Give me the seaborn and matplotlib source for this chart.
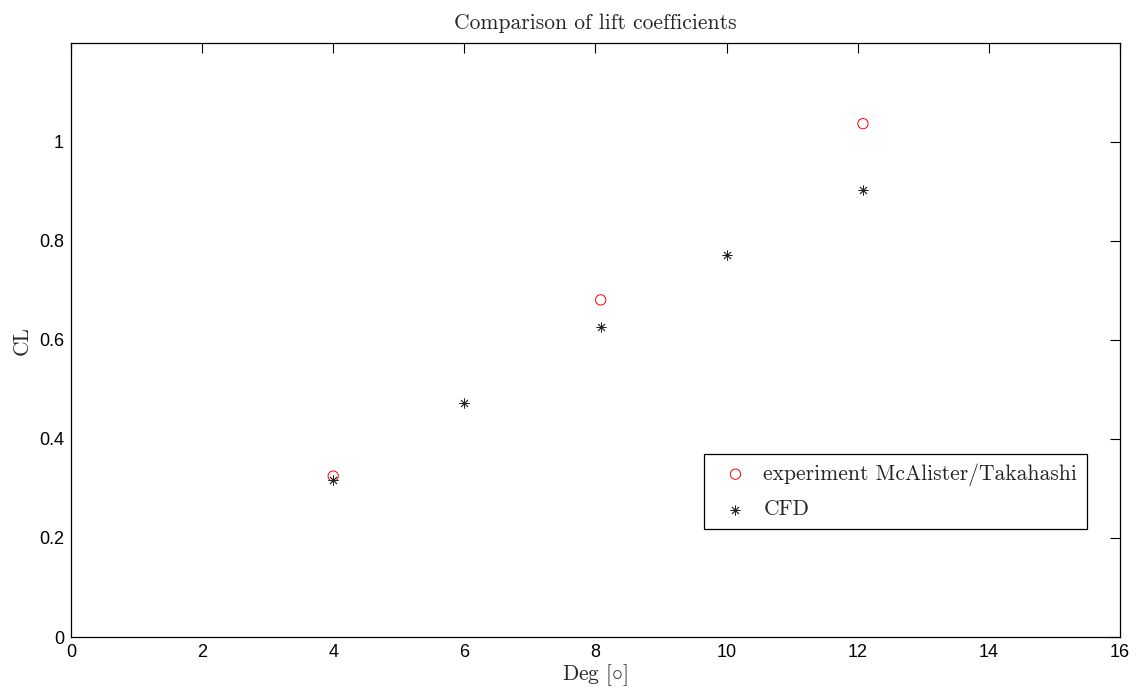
import matplotlib
matplotlib.use("Agg")
import matplotlib.pyplot as plt
import seaborn as sns
import pandas as pd

# Angle of attack [deg] and lift coefficient
exp_deg = [4.0, 8.08, 12.08]
exp_cl = [0.325, 0.681, 1.037]
cfd_deg = [4.0, 6.0, 8.08, 10.0, 12.08]
cfd_cl = [0.318, 0.473, 0.627, 0.772, 0.902]

x_ticks = [0, 2, 4, 6, 8, 10, 12, 14, 16]
y_ticks = [0, 0.2, 0.4, 0.6, 0.8, 1.0]

sns.set_style("white")
plt.rcParams["mathtext.fontset"] = "cm"
plt.rcParams["font.family"] = ["Liberation Sans Narrow", "Liberation Sans", "DejaVu Sans"]

exp_df = pd.DataFrame({"deg": exp_deg, "cl": exp_cl})
cfd_df = pd.DataFrame({"deg": cfd_deg, "cl": cfd_cl})

fig = plt.figure(figsize=(11.37, 6.93), dpi=100)
ax = fig.add_axes([0.0624, 0.0808, 0.9226, 0.8572])

sns.scatterplot(data=exp_df, x="deg", y="cl", ax=ax, marker="o", s=55,
                facecolor="none", edgecolor="#ff0000", linewidth=0.7,
                label="experiment McAlister/Takahashi")
sns.scatterplot(data=cfd_df, x="deg", y="cl", ax=ax, marker=(8, 2, 0), s=45,
                color="#222222", linewidth=0.6, label="CFD")

ax.set_xlim(0, 16)
ax.set_ylim(0, 1.2)
ax.set_xticks(x_ticks)
ax.set_xticklabels([f"{t:g}" for t in x_ticks])
ax.set_yticks(y_ticks)
ax.set_yticklabels([f"{t:g}" for t in y_ticks])
ax.tick_params(direction="in", length=7, width=0.8, top=True, right=True,
               labelsize=13, pad=5, colors="black")

for sp in ax.spines.values():
    sp.set_visible(True)
    sp.set_color("black")
    sp.set_linewidth(0.9)

serif = {"family": "cmr10", "size": 15.5}
ax.set_title("Comparison of lift coefficients", fontdict=serif, pad=10)
ax.set_xlabel(r"Deg [$\circ$]", fontdict=serif, labelpad=1)
ax.set_ylabel("CL", fontdict=serif, labelpad=5)

leg = ax.legend(loc="lower right", bbox_to_anchor=(0.9686, 0.1818),
                prop={"family": "cmr10", "size": 15.5}, frameon=True,
                fancybox=False, edgecolor="black", framealpha=1,
                borderpad=0.45, labelspacing=0.65, handletextpad=0.3,
                handlelength=2.0, borderaxespad=0)
leg.get_frame().set_linewidth(0.9)

fig.savefig("out.png", dpi=100)
